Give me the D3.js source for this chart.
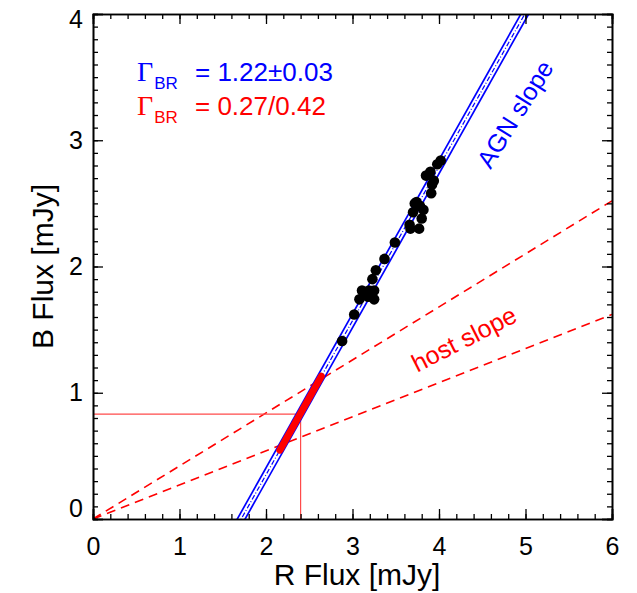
<!DOCTYPE html>
<html>
<head>
<meta charset="utf-8">
<script src="https://cdn.jsdelivr.net/npm/d3@7"></script>
<style>
  html, body { margin: 0; padding: 0; background: #fff; }
  svg { display: block; font-family: "Liberation Sans", Arial, Helvetica, sans-serif; }
</style>
</head>
<body>
<svg id="chart" width="637" height="593"></svg>
<script>
// ---- data ----
const rFlux = [2.88, 3.02, 3.08, 3.11, 3.19, 3.25, 3.25, 3.23, 3.27, 3.37, 3.49,
               3.67, 3.77, 3.70, 3.74, 3.78, 3.80, 3.91, 3.85, 3.90, 3.94, 3.98, 4.02, 3.92,
               3.72, 3.66, 3.82, 3.18, 3.14];
const bFlux = [1.41, 1.62, 1.74, 1.81, 1.81, 1.81, 1.74, 1.90, 1.97, 2.06, 2.19,
               2.30, 2.30, 2.43, 2.51, 2.48, 2.38, 2.58, 2.72, 2.75, 2.68, 2.81, 2.84, 2.65,
               2.50, 2.33, 2.45, 1.76, 1.79];
const agnSlopes = [1.22, 1.22, 1.22];
const agnIntercepts = [-2.035, -2.09, -2.145];
const agnStyles = ["solid", "dashdot", "solid"];
const hostSlopes = [0.27, 0.42];
const hostRangeR = [2.16, 2.64];   // host-dominated segment along the AGN line
const hostPointR = [2.40];
const hostPointB = [0.83];
const xTicks = [0, 1, 2, 3, 4, 5, 6];
const yTicks = [0, 1, 2, 3, 4];

// ---- layout ----
const svg = d3.select("#chart");
const L = 93, Rr = 612, T = 14, Bm = 519;
const x = d3.scaleLinear().domain([0, 6]).range([L, Rr]);
const y = d3.scaleLinear().domain([0, 4]).range([Bm, T]);

svg.append("defs").append("clipPath").attr("id", "clip")
  .append("rect").attr("x", L).attr("y", T).attr("width", Rr - L).attr("height", Bm - T);
const plot = svg.append("g").attr("clip-path", "url(#clip)");

// host slopes (dashed red, from origin)
hostSlopes.forEach(s => {
  plot.append("line")
    .attr("x1", x(0)).attr("y1", y(0))
    .attr("x2", x(6)).attr("y2", y(s * 6))
    .attr("stroke", "#ff0000").attr("stroke-width", 1.6)
    .attr("stroke-dasharray", "9,6");
});

// reference lines
plot.append("line")
  .attr("x1", x(0)).attr("y1", y(hostPointB[0]))
  .attr("x2", x(hostPointR[0])).attr("y2", y(hostPointB[0]))
  .attr("stroke", "#ff4a4a").attr("stroke-width", 1.2);
plot.append("line")
  .attr("x1", x(hostPointR[0])).attr("y1", y(hostPointB[0]))
  .attr("x2", x(hostPointR[0])).attr("y2", y(0))
  .attr("stroke", "#ff4a4a").attr("stroke-width", 1.2);

// AGN lines
agnSlopes.forEach((s, i) => {
  const b = agnIntercepts[i];
  const r0 = (0 - b) / s, r1 = (4 - b) / s;
  const ln = plot.append("line")
    .attr("x1", x(r0 - 0.1)).attr("y1", y(s * (r0 - 0.1) + b))
    .attr("x2", x(r1 + 0.1)).attr("y2", y(s * (r1 + 0.1) + b))
    .attr("stroke", "#0000ff");
  if (agnStyles[i] === "dashdot") ln.attr("stroke-width", 1.2).attr("stroke-dasharray", "5,2,1,2");
  else ln.attr("stroke-width", 1.7);
});

// host segment (thick red)
{
  const s = agnSlopes[1], b = agnIntercepts[1];
  plot.append("line")
    .attr("x1", x(hostRangeR[0])).attr("y1", y(s * hostRangeR[0] + b))
    .attr("x2", x(hostRangeR[1])).attr("y2", y(s * hostRangeR[1] + b))
    .attr("stroke", "#ff0000").attr("stroke-width", 7).attr("stroke-linecap", "round");
}

// data points
plot.selectAll("circle.pt").data(rFlux).enter().append("circle")
  .attr("class", "pt")
  .attr("cx", d => x(d))
  .attr("cy", (d, i) => y(bFlux[i]))
  .attr("r", 5.3)
  .attr("fill", "#000");

// ---- axes ----
const minorX = d3.range(0, 6.0001, 0.2).map(v => +v.toFixed(2));
const minorY = d3.range(0, 4.0001, 0.1).map(v => +v.toFixed(2));

function styleAxis(g) {
  g.select(".domain").attr("stroke", "#000").attr("stroke-width", 1.6);
  g.selectAll(".tick line").attr("stroke", "#000").attr("stroke-width", 1.3);
}
// bottom
svg.append("g").attr("transform", `translate(0,${Bm})`)
  .call(d3.axisBottom(x).tickValues(minorX).tickSize(-5).tickFormat("")).call(styleAxis);
const gx = svg.append("g").attr("transform", `translate(0,${Bm})`)
  .call(d3.axisBottom(x).tickValues(xTicks).tickSize(-10).tickPadding(18).tickFormat(d3.format("d")))
  .call(styleAxis);
gx.selectAll("text").attr("font-size", 25).attr("fill", "#000").attr("font-family", "Liberation Sans, Arial, sans-serif");
// top
svg.append("g").attr("transform", `translate(0,${T})`)
  .call(d3.axisTop(x).tickValues(minorX).tickSize(-5).tickFormat("")).call(styleAxis);
svg.append("g").attr("transform", `translate(0,${T})`)
  .call(d3.axisTop(x).tickValues(xTicks).tickSize(-10).tickFormat("")).call(styleAxis);
// left
svg.append("g").attr("transform", `translate(${L},0)`)
  .call(d3.axisLeft(y).tickValues(minorY).tickSize(-5).tickFormat("")).call(styleAxis);
const gy = svg.append("g").attr("transform", `translate(${L},0)`)
  .call(d3.axisLeft(y).tickValues(yTicks).tickSize(-10).tickPadding(10).tickFormat(d3.format("d")))
  .call(styleAxis);
gy.selectAll("text").attr("font-size", 25).attr("fill", "#000").attr("font-family", "Liberation Sans, Arial, sans-serif")
  .attr("dy", d => d === 0 ? "-0.1em" : d === 4 ? "0.52em" : "0.32em");
// right
svg.append("g").attr("transform", `translate(${Rr},0)`)
  .call(d3.axisRight(y).tickValues(minorY).tickSize(-5).tickFormat("")).call(styleAxis);
svg.append("g").attr("transform", `translate(${Rr},0)`)
  .call(d3.axisRight(y).tickValues(yTicks).tickSize(-10).tickFormat("")).call(styleAxis);

// axis titles
svg.append("text").attr("x", 357).attr("y", 585)
  .attr("text-anchor", "middle").attr("font-size", 30).text("R Flux [mJy]");
svg.append("text").attr("transform", `translate(53,${(T + Bm) / 2}) rotate(-90)`)
  .attr("text-anchor", "middle").attr("font-size", 30).text("B Flux [mJy]");

// legend
function gammaRow(yb, color, txt) {
  const t = svg.append("text").attr("x", 137).attr("y", yb).attr("fill", color);
  t.append("tspan").attr("font-family", "Liberation Serif, Times New Roman, serif").attr("font-size", 28).text("Γ");
  t.append("tspan").attr("font-size", 17).attr("dy", 8).attr("dx", 1).text("BR");
  svg.append("text").attr("x", 195).attr("y", yb).attr("fill", color).attr("font-size", 26).text(txt);
}
gammaRow(81, "#0000ff", "= 1.22±0.03");
gammaRow(115, "#ff0000", "= 0.27/0.42");

// slope labels
svg.append("text").attr("transform", "translate(515,114) rotate(-58)")
  .attr("text-anchor", "middle").attr("dy", "0.35em").attr("font-size", 25).attr("fill", "#0000ff").text("AGN slope");
svg.append("text").attr("transform", "translate(464,339) rotate(-27)")
  .attr("text-anchor", "middle").attr("dy", "0.35em").attr("font-size", 25).attr("fill", "#ff0000").text("host slope");
</script>
</body>
</html>
